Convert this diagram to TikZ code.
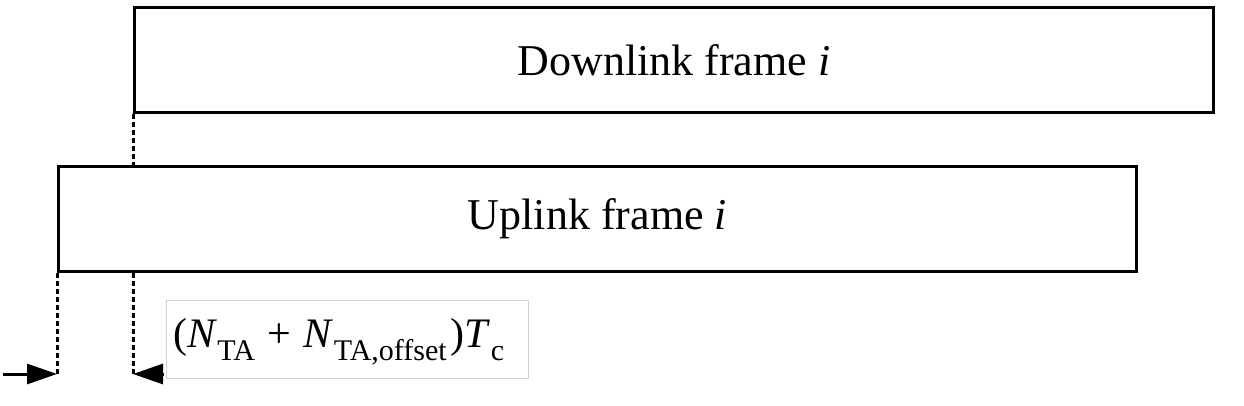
\documentclass[tikz,border=0pt]{standalone}
\usepackage{fontspec}
\setmainfont{Liberation Serif}
\usetikzlibrary{arrows.meta}
\newcommand{\lowsub}[1]{\raisebox{-0.3em}{\fontsize{30}{32}\selectfont #1}}
\begin{document}
\begin{tikzpicture}[x=1pt,y=1pt,
  frame/.style={draw,line width=3pt,minimum height=105pt,inner sep=0pt,
    font=\fontsize{44}{52}\selectfont,anchor=north west},
  guide/.style={line width=3pt,dash pattern=on 5pt off 3pt},
  pointer/.style={line width=3pt,-{Triangle[length=30pt,width=20pt]}}]
\useasboundingbox (0,0) rectangle (1244,-406);
\node[frame,minimum width=1079pt] (dl) at (133,-6) {Downlink frame \textit{i}};
\node[frame,minimum width=1078pt] (ul) at (57,-165) {Uplink frame \textit{i}};
\coordinate (lend) at (57,-374);
\coordinate (rend) at (133,-374);
\coordinate (lstart) at (3,-374);
\coordinate (rstart) at (164,-374);
\draw[guide] (dl.south west) -- (dl.south west |- ul.north);
\draw[guide] (ul.south west) -- (lend);
\draw[guide] (ul.south -| rend) -- (rend);
\draw[pointer] (lstart) -- (lend);
\draw[pointer] (rstart) -- (rend);
\node[draw=gray!35,line width=1pt,anchor=north west,inner ysep=0pt,inner xsep=7pt,
  text width=348pt,text height=47pt,text depth=31pt,align=left,
  font=\fontsize{42}{46}\selectfont] (fm)
  at (166,-300) {(\textit{N}\lowsub{TA}\hspace{0.3em}+\hspace{0.3em}\textit{N}\lowsub{TA,offset}\hspace{0.1em})\textit{T}\lowsub{c}};
\end{tikzpicture}
\end{document}
